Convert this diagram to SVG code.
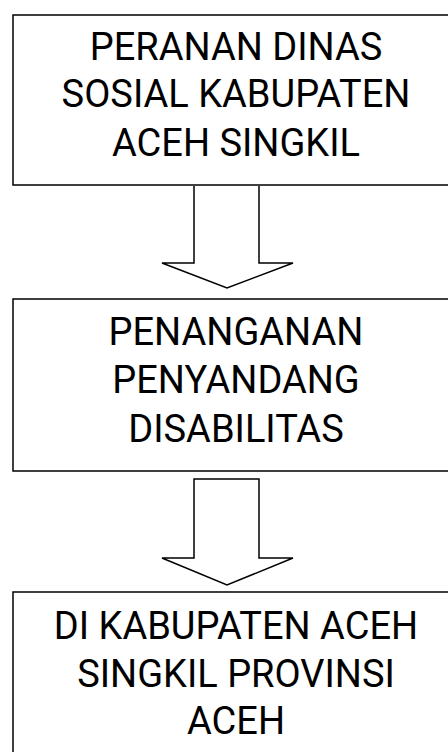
<svg xmlns="http://www.w3.org/2000/svg" width="448" height="752" viewBox="0 0 448 752">
<style>
.box{fill:#fff;stroke:#000;stroke-width:1.5}
.arr{fill:#fff;stroke:#000;stroke-width:1.5;stroke-linejoin:miter}
.t{font-family:Roboto,"Liberation Sans",sans-serif;font-size:38px;fill:#000;text-anchor:middle}
</style>
<rect width="448" height="752" fill="#fff"/>
<g id="connectors">
<path class="arr" d="M194,186 V263 H162 L227,288 L293,263 H259 V186"/>
<path class="arr" d="M194,479 V558 H162 L227,585 L293,558 H259 V479 Z"/>
</g>
<g id="node1">
<rect class="box" x="13" y="15" width="447" height="170"/>
<text class="t" x="236" y="60">PERANAN DINAS</text>
<text class="t" x="236" y="107">SOSIAL KABUPATEN</text>
<text class="t" x="236" y="156">ACEH SINGKIL</text>
</g>
<g id="node2">
<rect class="box" x="13" y="299" width="447" height="172"/>
<text class="t" x="236" y="345">PENANGANAN</text>
<text class="t" x="236" y="393">PENYANDANG</text>
<text class="t" x="236" y="442">DISABILITAS</text>
</g>
<g id="node3">
<rect class="box" x="13" y="592" width="447" height="180"/>
<text class="t" x="236" y="639">DI KABUPATEN ACEH</text>
<text class="t" x="236" y="687">SINGKIL PROVINSI</text>
<text class="t" x="236" y="734">ACEH</text>
</g>
</svg>
